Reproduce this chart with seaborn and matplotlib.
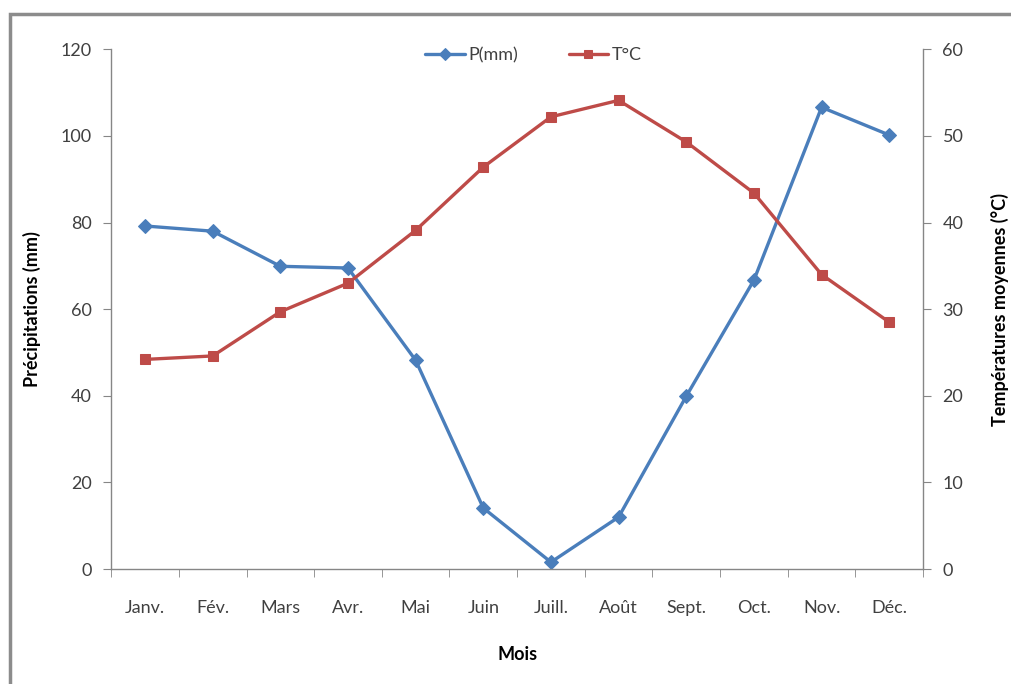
import seaborn as sns
import matplotlib.pyplot as plt
from matplotlib.patches import Rectangle
import pandas as pd

mois = ['Janv.', 'Fév.', 'Mars', 'Avr.', 'Mai', 'Juin', 'Juill.', 'Août',
        'Sept.', 'Oct.', 'Nov.', 'Déc.']
precip = [79.2, 78.0, 69.9, 69.5, 48.2, 14.1, 1.6, 12.0, 39.9, 66.7, 106.6, 100.2]
temp = [24.2, 24.6, 29.7, 33.0, 39.1, 46.4, 52.2, 54.1, 49.3, 43.4, 34.0, 28.5]

df = pd.DataFrame({'Mois': mois, 'P': precip, 'T': temp})

sns.set_style('white')
plt.rcParams['font.family'] = ['Lato', 'DejaVu Sans']

blue = '#4a7ebb'
red = '#be4b48'
grey_txt = '#404040'

fig = plt.figure(figsize=(10.11, 6.84), dpi=100)
ax = fig.add_axes([0.110, 0.168, 0.803, 0.760])
ax2 = ax.twinx()

sns.lineplot(data=df, x='Mois', y='P', ax=ax, color=blue, marker='D',
             markersize=7.5, linewidth=2.4, markeredgecolor=blue, sort=False,
             label='P(mm)', legend=False)
sns.lineplot(data=df, x='Mois', y='T', ax=ax2, color=red, marker='s',
             markersize=7.5, linewidth=2.4, markeredgecolor=red, sort=False,
             label='T°C', legend=False)

n = len(mois)
ax.set_xlim(-0.5, n - 0.5)
ax.set_ylim(0, 120)
ax2.set_ylim(0, 60)
ax.set_yticks(range(0, 121, 20))
ax2.set_yticks(range(0, 61, 10))

# tick marks between categories, labels centred
ax.set_xticks(range(n))
ax.set_xticklabels(mois)
ax.set_xticks([i - 0.5 for i in range(n + 1)], minor=True)
ax.tick_params(axis='x', which='major', length=0, pad=22, labelsize=13, colors=grey_txt)
ax.tick_params(axis='x', which='minor', length=6, color='#868686', direction='out', bottom=True)
ax.tick_params(axis='y', length=6, color='#868686', direction='out', left=True,
               labelsize=13, colors=grey_txt, pad=8)
ax2.tick_params(axis='y', length=6, color='#868686', direction='out', right=True,
                labelsize=13, colors=grey_txt, pad=8)
for a in (ax, ax2):
    a.tick_params(axis='y', which='both', color='#868686')
    for s in a.spines.values():
        s.set_visible(False)
ax.spines['left'].set_visible(True)
ax.spines['bottom'].set_visible(True)
ax2.spines['right'].set_visible(True)
for s in (ax.spines['left'], ax.spines['bottom'], ax2.spines['right']):
    s.set_color('#868686')
    s.set_linewidth(1)

ax.set_xlabel('Mois', fontsize=13, fontweight='bold', color='black', labelpad=22)
ax.set_ylabel('Précipitations (mm)', fontsize=13, fontweight='bold', color='black', labelpad=14)
ax2.set_ylabel('Températures moyennes (°C)', fontsize=13, fontweight='bold',
               color='black', labelpad=20)

h1, l1 = ax.get_legend_handles_labels()
h2, l2 = ax2.get_legend_handles_labels()
ax.legend(h1 + h2, l1 + l2, loc='upper center', bbox_to_anchor=(0.52, 1.035),
          ncol=2, frameon=False, fontsize=13, handlelength=2.2, handletextpad=0.2,
          columnspacing=2.8, markerscale=0.8, labelcolor=grey_txt)

# outer chart frame
fig.patches.append(Rectangle((10 / 1011, -0.01), 1.02, 1 - 14 / 684 + 0.01,
                             transform=fig.transFigure, fill=False,
                             edgecolor='#8c8c8c', linewidth=2.5))

fig.savefig('out.png', dpi=100)
